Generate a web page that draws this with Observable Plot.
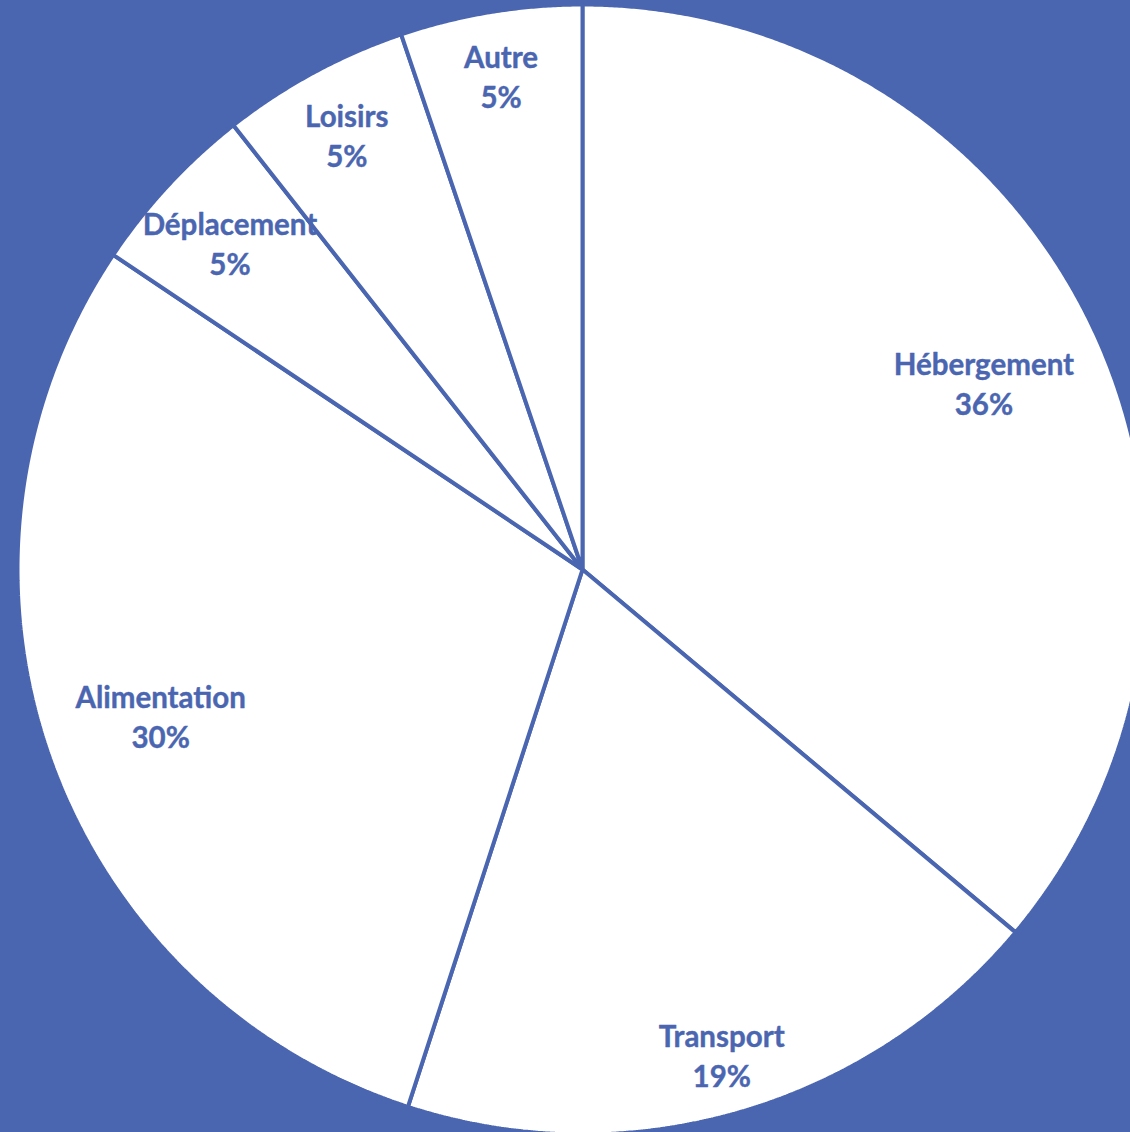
<!DOCTYPE html>
<html>
<head>
<meta charset="utf-8">
<script src="https://cdn.jsdelivr.net/npm/d3@7"></script>
<script src="https://cdn.jsdelivr.net/npm/@observablehq/plot@0.6"></script>
<style>
  html, body { margin: 0; padding: 0; background: #4B66B1; overflow: hidden; }
  #chart svg { display: block; }
</style>
</head>
<body>
<div id="chart"></div>
<script>
// Data, clockwise from 12 o'clock
const categories = ["Hébergement", "Transport", "Alimentation", "Déplacement", "Loisirs", "Autre"];
const values = [36.1, 18.9, 29.4, 5.0, 5.4, 5.2];
const percentLabels = ["36%", "19%", "30%", "5%", "5%", "5%"];

// Layout (not data): label distance from centre as a fraction of the radius
const labelRadius = [0.784, 0.893, 0.79, 0.851, 0.876, 0.886];

const W = 1130, H = 1132;
const cx = 582, cy = 569, R = 565;
const blue = "#4B66B1";

const pie = d3.pie().sort(null).value(d => d)(values);

// slice polygons in unit coordinates (angle clockwise from top)
const slicePts = [];
pie.forEach((p, i) => {
  slicePts.push({name: categories[i], x: 0, y: 0});
  const n = Math.max(8, Math.ceil((p.endAngle - p.startAngle) / (Math.PI / 720)));
  for (let k = 0; k <= n; k++) {
    const a = p.startAngle + (p.endAngle - p.startAngle) * k / n;
    slicePts.push({name: categories[i], x: Math.sin(a), y: Math.cos(a)});
  }
});

const labelData = pie.map((p, i) => {
  const a = (p.startAngle + p.endAngle) / 2;
  return {
    name: categories[i],
    text: categories[i] + "\n" + percentLabels[i],
    x: labelRadius[i] * Math.sin(a),
    y: labelRadius[i] * Math.cos(a)
  };
});

const fs = 29.5;
const chart = Plot.plot({
  width: W,
  height: H,
  margin: 0,
  style: {background: blue, overflow: "hidden"},
  x: {domain: [-cx / R, (W - cx) / R], range: [0, W], axis: null},
  y: {domain: [-(H - cy) / R, cy / R], range: [H, 0], axis: null},
  marks: [
    Plot.line(slicePts, {
      x: "x", y: "y", z: "name",
      curve: "linear-closed",
      fill: "white",
      stroke: blue,
      strokeWidth: 4,
      strokeLinejoin: "miter"
    }),
    Plot.text(labelData, {
      x: "x", y: "y", text: "text",
      fill: blue,
      stroke: blue,
      strokeWidth: 0.4,
      fontSize: fs,
      fontWeight: "bold",
      fontFamily: "Lato, 'Open Sans', sans-serif",
      lineHeight: 40 / fs
    })
  ]
});

document.getElementById("chart").appendChild(chart);
</script>
</body>
</html>
